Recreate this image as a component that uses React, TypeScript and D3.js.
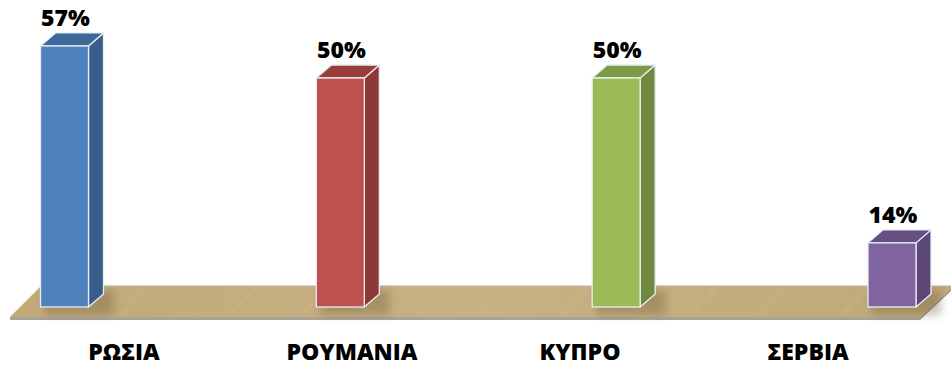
import React, { useRef, useEffect } from "react";
import * as d3 from "d3";

// chart data
const categories = ["ΡΩΣΙΑ", "ΡΟΥΜΑΝΙΑ", "ΚΥΠΡΟ", "ΣΕΡΒΙΑ"];
const values = [0.57, 0.5, 0.5, 0.14];
const frontColors = ["#4F81BD", "#C0504D", "#9BBB59", "#8064A2"];
const sideColors = ["#385D8A", "#8C3836", "#71893F", "#5C4776"];
const topColors = ["#3E6899", "#9A3E3B", "#7D9A46", "#664F83"];

const W = 951;
const H = 367;

const App: React.FC = () => {
  const svgRef = useRef<SVGSVGElement>(null);

  useEffect(() => {
    document.body.style.margin = "0";
    if (!svgRef.current) return;
    const svg = d3.select(svgRef.current);
    svg.selectAll("*").remove();

    // --- layout constants
    const base = 307; // bottom of the bar front faces
    const barW = 48;
    const dx = 15; // depth offset to the right
    const dy = 13; // depth offset upwards

    // scales
    const x = d3.scalePoint<string>().domain(categories).range([64.5, 892]);
    const xLabel = d3.scalePoint<string>().domain(categories).range([124, 808]);
    const y = d3.scaleLinear().domain([0, 0.6]).range([base, base - 0.6 * 458]);

    const defs = svg.append("defs");
    const grad = defs
      .append("linearGradient")
      .attr("id", "floorGrad")
      .attr("x1", "0")
      .attr("y1", "0")
      .attr("x2", "1")
      .attr("y2", "0");
    grad.append("stop").attr("offset", "0").attr("stop-color", "#C2A978");
    grad.append("stop").attr("offset", "0.5").attr("stop-color", "#C8B083");
    grad.append("stop").attr("offset", "1").attr("stop-color", "#C1A877");

    const blur = defs.append("filter").attr("id", "shadowBlur").attr("x", "-50%").attr("y", "-50%").attr("width", "200%").attr("height", "200%");
    blur.append("feGaussianBlur").attr("stdDeviation", 4);

    // floor
    const floorTop = 286;
    const floorBottom = 317;
    const floor = [
      [41, floorTop],
      [953, floorTop],
      [920, floorBottom],
      [10, floorBottom],
    ];
    // thickness / edge
    svg
      .append("polygon")
      .attr("points", [[10, floorBottom], [920, floorBottom], [920, floorBottom + 3], [10, floorBottom + 3]].map((p) => p.join(",")).join(" "))
      .attr("fill", "#A7A397");
    svg
      .append("polygon")
      .attr("points", [[920, floorBottom], [953, floorTop], [953, floorTop + 3], [920, floorBottom + 3]].map((p) => p.join(",")).join(" "))
      .attr("fill", "#9D998C");
    svg
      .append("polygon")
      .attr("points", floor.map((p) => p.join(",")).join(" "))
      .attr("fill", "url(#floorGrad)");
    // subtle streaks on the floor
    const streaks = [120, 230, 300, 420, 480, 560, 690, 760, 840];
    svg
      .append("g")
      .selectAll("line")
      .data(streaks)
      .join("line")
      .attr("x1", (d) => d)
      .attr("y1", floorBottom - 2)
      .attr("x2", (d) => d + 26)
      .attr("y2", floorTop + 2)
      .attr("stroke", "#D0BA8E")
      .attr("stroke-width", 4)
      .attr("opacity", 0.25);
    svg
      .append("line")
      .attr("x1", 41)
      .attr("x2", 953)
      .attr("y1", floorTop)
      .attr("y2", floorTop)
      .attr("stroke", "#B8B5AC")
      .attr("stroke-width", 1.2);

    // bar shadows on the floor
    svg
      .append("g")
      .selectAll("rect")
      .data(categories)
      .join("rect")
      .attr("x", (d) => x(d)! - barW / 2 + 4)
      .attr("y", base - dy - 4)
      .attr("width", barW + dx + 6)
      .attr("height", dy + 12)
      .attr("fill", "#6B5836")
      .attr("opacity", 0.35)
      .attr("filter", "url(#shadowBlur)");

    // bars
    const bars = svg
      .append("g")
      .selectAll("g")
      .data(categories)
      .join("g");

    const stroke = "#E6EEF6";
    bars.each(function (d, i) {
      const g = d3.select(this);
      const x0 = x(d)! - barW / 2;
      const x1 = x0 + barW;
      const top = y(values[i]);
      const pts = (arr: number[][]) => arr.map((p) => p.join(",")).join(" ");

      g.append("polygon")
        .attr("points", pts([[x1, top], [x1 + dx, top - dy], [x1 + dx, base - dy], [x1, base]]))
        .attr("fill", sideColors[i])
        .attr("stroke", stroke)
        .attr("stroke-width", 1.3)
        .attr("stroke-linejoin", "round");
      g.append("polygon")
        .attr("points", pts([[x0, top], [x0 + dx, top - dy], [x1 + dx, top - dy], [x1, top]]))
        .attr("fill", topColors[i])
        .attr("stroke", stroke)
        .attr("stroke-width", 1.3)
        .attr("stroke-linejoin", "round");
      g.append("rect")
        .attr("x", x0)
        .attr("y", top)
        .attr("width", barW)
        .attr("height", base - top)
        .attr("fill", frontColors[i])
        .attr("stroke", stroke)
        .attr("stroke-width", 1.3);

      // value label
      g.append("text")
        .attr("x", x(d)! + 1)
        .attr("y", top - 20)
        .attr("text-anchor", "middle")
        .style("font-family", "'Open Sans', sans-serif")
        .style("font-weight", 800)
        .style("font-size", "23px")
        .attr("fill", "#000")
        .text(d3.format(".0%")(values[i]));
    });

    // category labels
    svg
      .append("g")
      .selectAll("text")
      .data(categories)
      .join("text")
      .attr("x", (d) => xLabel(d)!)
      .attr("y", 360)
      .attr("text-anchor", "middle")
      .style("font-family", "'Open Sans', sans-serif")
      .style("font-weight", 800)
      .style("font-size", "23px")
      .attr("fill", "#000")
      .text((d) => d);
  }, []);

  return <svg ref={svgRef} width={W} height={H} style={{ display: "block" }} />;
};

export default App;
